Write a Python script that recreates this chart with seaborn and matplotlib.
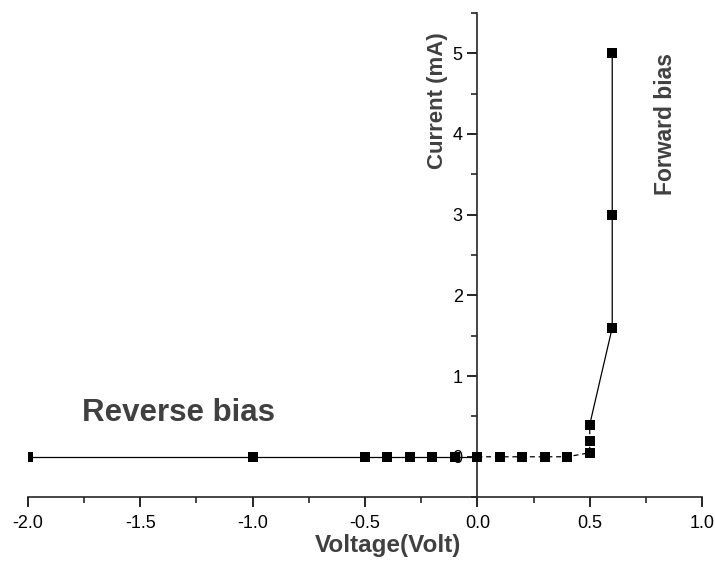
import numpy as np
import pandas as pd
import matplotlib
matplotlib.use("Agg")
import matplotlib.pyplot as plt
from matplotlib.ticker import MultipleLocator
import seaborn as sns

# I-V data of the diode
voltage = [-2.0, -1.0, -0.5, -0.4, -0.3, -0.2, -0.1, 0.0,
           0.1, 0.2, 0.3, 0.4, 0.5, 0.5, 0.5, 0.6, 0.6, 0.6]
current = [0.0, 0.0, 0.0, 0.0, 0.0, 0.0, 0.0, 0.0,
           0.0, 0.0, 0.0, 0.0, 0.05, 0.2, 0.4, 1.6, 3.0, 5.0]
# which part of the curve each point belongs to (for the line style)
segment = ["rev"] * 8 + ["knee"] * 7 + ["fwd"] * 3

sns.set_style("ticks")
plt.rcParams['font.family'] = ['Liberation Sans', 'DejaVu Sans']

df = pd.DataFrame({"V": voltage, "I": current, "seg": segment})
# the knee point is shared with the dashed run and the forward run
rev = df.iloc[0:8]
knee = df.iloc[7:15]
fwd = df.iloc[14:18]

fig = plt.figure(figsize=(7.15, 5.63), dpi=100)
ax = fig.add_axes([0.039, 0.117, 0.943, 0.860])

for part, ls in [(rev, "-"), (knee, (0, (4, 3))), (fwd, "-")]:
    sns.lineplot(data=part, x="V", y="I", sort=False, estimator=None,
                 color="black", lw=0.9, linestyle=ls, ax=ax)
sns.scatterplot(data=df, x="V", y="I", marker="s", s=45, color="black",
                edgecolor="black", linewidth=0, ax=ax, zorder=3)

ax.set_xlim(-2.0, 1.0)
ax.set_ylim(-0.5, 5.5)

ax.spines['left'].set_position(('data', 0))
ax.spines['right'].set_visible(False)
ax.spines['top'].set_visible(False)
for s in ['left', 'bottom']:
    ax.spines[s].set_linewidth(1.2)

ax.xaxis.set_major_locator(MultipleLocator(0.5))
ax.xaxis.set_minor_locator(MultipleLocator(0.25))
ax.yaxis.set_major_locator(MultipleLocator(1))
ax.yaxis.set_minor_locator(MultipleLocator(0.5))
ax.set_xticks(np.arange(-2.0, 1.01, 0.5))
ax.set_xticklabels(["-2.0", "-1.5", "-1.0", "-0.5", "0.0", "0.5", "1.0"])
ax.set_yticks(range(0, 6))
ax.set_yticklabels([str(v) for v in range(0, 6)])

ax.tick_params(which='major', direction='out', length=7, width=1.2,
               labelsize=13, colors='black')
ax.tick_params(which='minor', direction='out', length=4, width=1.2)
ax.tick_params(axis='x', pad=6)

ax.set_xlabel("")
ax.set_ylabel("")
lab_col = "#404040"
ax.text(0.534, -0.099, "Voltage(Volt)", transform=ax.transAxes,
        ha='center', va='center', fontsize=17.5, fontweight='bold', color=lab_col)
ax.text(-0.178, 4.41, "Current (mA)", rotation=90, ha='center', va='center',
        fontsize=16, fontweight='bold', color=lab_col)
ax.text(0.837, 4.13, "Forward bias", rotation=90, ha='center', va='center',
        fontsize=16.5, fontweight='bold', color=lab_col)
ax.text(-1.33, 0.54, "Reverse bias", ha='center', va='center',
        fontsize=22.5, fontweight='bold', color=lab_col)

fig.savefig("out.png", dpi=100)
